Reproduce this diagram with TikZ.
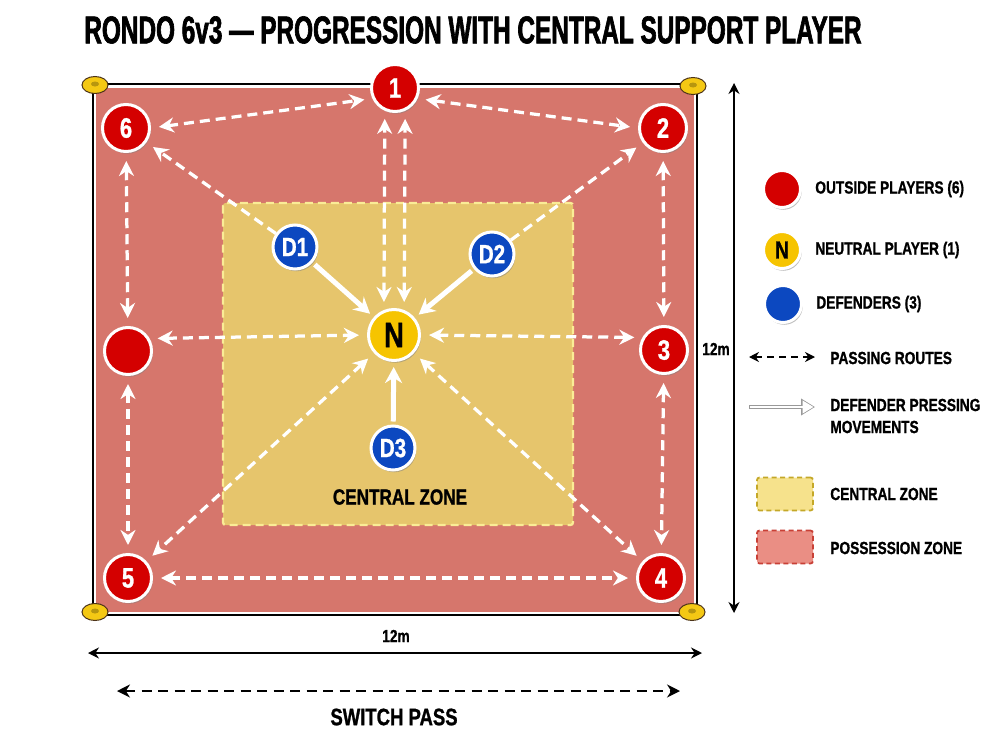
\documentclass[tikz,border=0pt]{standalone}
\usepackage{fontspec}
\setmainfont{Liberation Sans}
\newfontfamily\condfont[FakeStretch=0.78, FakeBold=1]{Liberation Sans}
\newfontfamily\titlefont[FakeStretch=0.63, FakeBold=1.6]{Liberation Sans}
\usetikzlibrary{arrows.meta,positioning,shadows}

\definecolor{fieldred}{RGB}{214,118,108}
\definecolor{zoneyellow}{RGB}{230,197,108}
\definecolor{zoneline}{RGB}{250,236,150}
\definecolor{plred}{RGB}{212,0,0}
\definecolor{plblue}{RGB}{12,72,192}
\definecolor{plyellow}{RGB}{246,196,0}
\definecolor{conecol}{RGB}{244,200,20}
\definecolor{legyellow}{RGB}{246,226,140}
\definecolor{legyellowline}{RGB}{196,168,40}
\definecolor{legred}{RGB}{234,142,132}
\definecolor{legredline}{RGB}{200,64,54}

\begin{document}
\begin{tikzpicture}[
    x=0.2mm, y=-0.2mm,
    >={Stealth[length=3mm,width=3mm]},
    player/.style={circle, draw=white, line width=0.6mm, minimum size=9.4mm, inner sep=0pt,
        drop shadow={shadow xshift=0.25mm, shadow yshift=-0.45mm, opacity=0.5}},
    outside/.style={player, fill=plred, text=white, font=\condfont\bfseries\fontsize{16}{16}\selectfont},
    neutral/.style={player, fill=plyellow, minimum size=10.2mm, text=black, font=\condfont\bfseries\fontsize{20}{20}\selectfont},
    defender/.style={player, fill=plblue, minimum size=8.8mm, text=white, font=\condfont\bfseries\fontsize{15}{15}\selectfont},
    pass/.style={<->, white, line width=0.65mm, dash pattern=on 2mm off 1.2mm, shorten <=1.6mm, shorten >=1.6mm},
    press/.style={->, >={Stealth[length=3.2mm,width=3.4mm]}, white, line width=1mm, shorten <=0.6mm, shorten >=1mm},
    dim/.style={<->, >={Stealth[length=2.2mm,width=2.2mm]}, black, line width=0.25mm},
    lbl/.style={text=black, font=\condfont\bfseries\fontsize{10}{12.5}\selectfont},
    legtext/.style={lbl, anchor=west, align=left, inner sep=0pt},
    legzone/.style={rectangle, line width=0.35mm, dash pattern=on 1mm off 0.7mm, rounded corners=0.5mm,
        minimum width=11.2mm, minimum height=6.6mm}
]
    \fill[white] (0,0) rectangle (1000,750);
    \useasboundingbox (0,0) rectangle (1000,750);

    \node[font=\titlefont\bfseries\fontsize{22}{26}\selectfont] (title) at (473,30) {RONDO 6v3 — PROGRESSION WITH CENTRAL SUPPORT PLAYER};

    % pitch and zones
    \draw[black, line width=0.3mm, fill=white] (93,84) rectangle (697,615);
    \fill[fieldred] (96,88) rectangle (694,612);
    \draw[zoneline, fill=zoneyellow, line width=0.45mm, dash pattern=on 1.6mm off 1mm, rounded corners=0.5mm] (223,203) rectangle (573,525);
    \node[lbl, font=\condfont\bfseries\fontsize{12.5}{14}\selectfont] (czlabel) at (400,497) {CENTRAL ZONE};

    % cones
    \foreach \cx/\cy in {95/85, 693/86, 95/612, 692/612} {
        \filldraw[fill=conecol, draw=black!60!brown, line width=0.2mm] (\cx,\cy) ellipse [x radius=2.6mm, y radius=1.7mm];
        \fill[conecol!75!black] (\cx,\cy-1) ellipse [x radius=0.8mm, y radius=0.5mm];
    }

    % players
    \node[outside] (p1) at (395,88) {1};
    \node[outside] (p2) at (663,128) {2};
    \node[outside] (p3) at (664,350) {3};
    \node[outside] (p4) at (661,578) {4};
    \node[outside] (p5) at (128,578) {5};
    \node[outside] (pL) at (128,351) {};
    \node[outside] (p6) at (126,128) {6};
    \node[neutral] (N) at (394,335) {N};
    \node[defender] (d1) at (295,247) {D1};
    \node[defender] (d2) at (492,254) {D2};
    \node[defender] (d3) at (393,448) {D3};

    % passing routes
    \draw[pass] (p6.east) -- (p1.205);
    \draw[pass] (p1.-25) -- (p2.west);
    \draw[pass] (p6) -- (pL);
    \draw[pass] (pL) -- (p5);
    \draw[pass] (p2) -- (p3);
    \draw[pass] (p3) -- (p4);
    \draw[pass] (p5) -- (p4);
    \draw[pass] (pL.30) -- (N.west);
    \draw[pass] (N.east) -- (p3.150);
    \draw[pass] (N.112) -- (p1.246);
    \draw[pass] (N.68) -- (p1.294);
    \draw[pass] (N) -- (p5);
    \draw[pass] (N) -- (p4);
    \draw[pass, ->, shorten <=0pt] (d1) -- (p6);
    \draw[pass, ->, shorten <=0pt] (d2) -- (p2);

    % pressing
    \draw[press] (d1) -- (N);
    \draw[press] (d2) -- (N);
    \draw[press] (d3) -- (N);

    % dimensions
    \coordinate (wL) at (88,653);
    \coordinate (wR) at (702,653);
    \draw[dim] (wL) -- (wR);
    \node[lbl] (wlabel) at (396,636) {12m};
    \coordinate (hT) at (734,83);
    \coordinate (hB) at (734,613);
    \draw[dim] (hT) -- (hB);
    \node[lbl] (hlabel) at (716,349) {12m};

    \coordinate (swL) at (117,691);
    \coordinate (swR) at (680,691);
    \draw[dim, line width=0.4mm, dash pattern=on 2mm off 1.3mm, >={Stealth[length=2.6mm,width=2.6mm]}] (swL) -- (swR);
    \node[lbl, font=\condfont\bfseries\fontsize{13.5}{16}\selectfont] (swlabel) at (394,717) {SWITCH PASS};

    % legend
    \node[outside, minimum size=7.4mm] (lgout) at (782,189) {};
    \node[legtext, right=2.6mm of lgout] (lgouttext) {OUTSIDE PLAYERS (6)};
    \node[neutral, minimum size=7.4mm, font=\condfont\bfseries\fontsize{14}{14}\selectfont] (lgneu) at (782,250) {N};
    \node[legtext, right=2.6mm of lgneu] (lgneutext) {NEUTRAL PLAYER (1)};
    \node[defender, minimum size=7.4mm] (lgdef) at (783,304) {};
    \node[legtext, right=2.6mm of lgdef] (lgdeftext) {DEFENDERS (3)};

    \coordinate (lgpA) at (749,357);
    \coordinate (lgpB) at (815,357);
    \draw[<->, black, line width=0.3mm, dash pattern=on 1.4mm off 1mm, >={Stealth[length=2mm,width=2mm]}] (lgpA) -- (lgpB);
    \node[legtext] (lgptext) at (830,358) {PASSING ROUTES};

    \coordinate (lgmA) at (749,407);
    \coordinate (lgmB) at (815,407);
    \draw[black!40, line width=0.9mm, -{Triangle[length=2.8mm,width=3.2mm]}] (lgmA) -- (lgmB);
    \draw[white, line width=0.5mm, shorten <=0.2mm, shorten >=0.3mm, -{Triangle[length=2.2mm,width=2.5mm]}] (lgmA) -- (lgmB);
    \node[legtext] (lgmtext) at (830,416) {DEFENDER PRESSING\\MOVEMENTS};

    \node[legzone, fill=legyellow, draw=legyellowline] (lgcz) at (785,494) {};
    \node[legtext] (lgcztext) at (830,494) {CENTRAL ZONE};
    \node[legzone, fill=legred, draw=legredline] (lgpz) at (785,547) {};
    \node[legtext] (lgpztext) at (830,548) {POSSESSION ZONE};
\end{tikzpicture}
\end{document}
